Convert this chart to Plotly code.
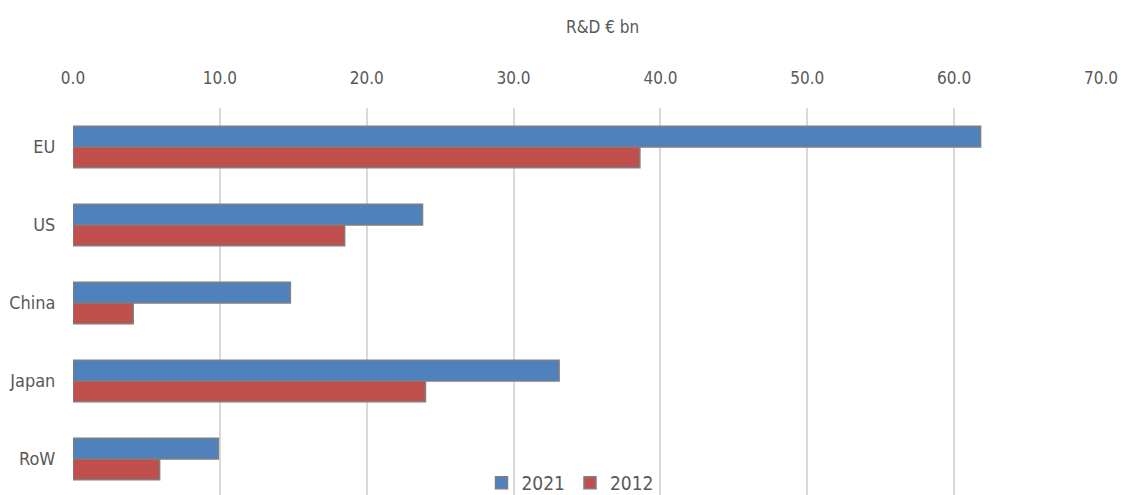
import plotly.graph_objects as go

categories = ["EU", "US", "China", "Japan", "RoW"]
values_2021 = [61.8, 23.8, 14.8, 33.1, 9.9]
values_2012 = [38.6, 18.5, 4.1, 24.0, 5.9]
tick_vals = [0, 10, 20, 30, 40, 50, 60, 70]
tick_text = ["0.0", "10.0", "20.0", "30.0", "40.0", "50.0", "60.0", "70.0"]

FONT = "DejaVu Sans Condensed, Roboto, sans-serif"
GREY = "#595959"

fig = go.Figure()
fig.add_trace(go.Bar(
    y=categories, x=values_2021, name="2021", orientation="h",
    marker=dict(color="#4F81BD", line=dict(color="#7F7F7F", width=1.5)),
))
fig.add_trace(go.Bar(
    y=categories, x=values_2012, name="2012", orientation="h",
    marker=dict(color="#C0504D", line=dict(color="#7F7F7F", width=1.5)),
))

W = 1121
H = 495
left = 73
right = 20
top = 108
plot_h = H - top
plot_w = W - left - right

fig.update_layout(
    width=W, height=H,
    margin=dict(l=left, r=right, t=top, b=0, autoexpand=False),
    paper_bgcolor="white", plot_bgcolor="white",
    barmode="group", bargap=0.47, bargroupgap=0,
    font=dict(family=FONT, color=GREY, size=17),
    showlegend=True,
    legend=dict(orientation="h", x=(570 - left) / plot_w, xanchor="center",
                y=(H - 483) / plot_h, yanchor="middle",
                font=dict(size=19, color=GREY),
                bgcolor="rgba(255,255,255,0)", itemwidth=30, tracegroupgap=0),
    annotations=[dict(text="R&D € bn", x=(602 - left) / plot_w, xref="paper",
                      y=1 + (top - 27) / plot_h, yref="paper", showarrow=False,
                      font=dict(size=17, color=GREY),
                      xanchor="center", yanchor="middle")],
)

fig.update_xaxes(
    side="top", range=[0, 70], tickvals=tick_vals, ticktext=tick_text,
    showgrid=True, gridcolor="#D9D9D9", gridwidth=2,
    zeroline=False, showline=False, automargin=False,
    ticks="outside", ticklen=16, tickcolor="rgba(0,0,0,0)",
    tickfont=dict(size=17, color=GREY),
)
fig.update_yaxes(
    categoryorder="array", categoryarray=categories,
    range=[4.5 - 3 / 78, -0.5], showgrid=False, zeroline=False, showline=False,
    automargin=False,
    ticks="outside", ticklen=13, tickcolor="rgba(0,0,0,0)",
    tickfont=dict(size=18, color=GREY),
)

fig.write_html(
    "out.html",
    config={"displayModeBar": False},
    post_script="document.body.style.margin='0';document.body.style.overflow='hidden';",
)
